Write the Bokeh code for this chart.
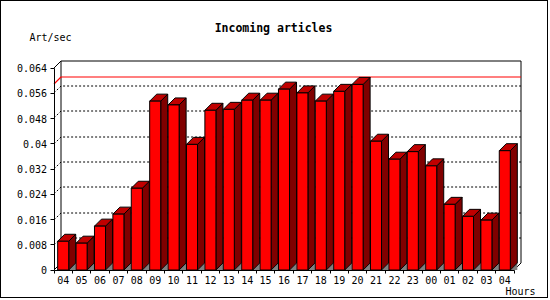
from bokeh.plotting import figure
from bokeh.models import Range1d, FixedTicker, Label
from bokeh.embed import file_html
from bokeh.resources import INLINE

# ---- data ----
hours = ["04", "05", "06", "07", "08", "09", "10", "11", "12", "13", "14", "15", "16",
         "17", "18", "19", "20", "21", "22", "23", "00", "01", "02", "03", "04"]
art_per_sec = [0.0091, 0.0085, 0.0139, 0.0177, 0.0259, 0.0535, 0.0523, 0.0398, 0.0506,
               0.0509, 0.0538, 0.0538, 0.0573, 0.0561, 0.0535, 0.0566, 0.0588, 0.0408,
               0.0351, 0.0375, 0.0330, 0.0208, 0.0170, 0.0158, 0.0378]
y_ticks = [0, 0.008, 0.016, 0.024, 0.032, 0.04, 0.048, 0.056, 0.064]
y_tick_labels = ["0", "0.008", "0.016", "0.024", "0.032", "0.04", "0.048", "0.056", "0.064"]
title_text = "Incoming articles"
y_title = "Art/sec"
x_title = "Hours"

# ---- geometry (pixels) ----
W, H = 548, 298            # canvas inside a 1px page border
OX, OY = 52.5, 268.5       # canvas position of data origin (front-bottom-left corner)
N = len(hours)
PX_CAT = 460.0 / N         # pixels per category
YMAX = y_ticks[-1]
PX_UNIT = 202.0 / YMAX     # pixels per unit
DX = 7.0 / PX_CAT          # 3D depth offset in data units
DY = 7.0 / PX_UNIT

def X(px):  # page px -> data x
    return (px - 1 - OX) / PX_CAT

def Y(py):  # page py -> data y
    return (OY - (py - 1)) / PX_UNIT

def snap(v):
    return round(v * PX_UNIT) / PX_UNIT

p = figure(width=W, height=H, output_backend="svg", toolbar_location=None,
           x_range=Range1d(-OX / PX_CAT, (W - OX) / PX_CAT),
           y_range=Range1d(-(H - OY) / PX_UNIT, OY / PX_UNIT),
           min_border_left=0, min_border_right=0, min_border_top=0, min_border_bottom=0)
p.styles = {"border": "1px solid black"}
p.outline_line_color = None
p.xgrid.visible = False
p.ygrid.visible = False
p.background_fill_color = "white"
p.border_fill_color = "white"

FONT = "DejaVu Sans Mono"

# back plane
p.quad(left=[DX], right=[N + DX], bottom=[DY], top=[YMAX + DY],
       fill_color="white", line_color=None)
p.multi_line(xs=[[DX, DX, N + DX, N + DX], [0, DX], [0, DX], [N, N + DX]],
             ys=[[DY, snap(YMAX) + DY, snap(YMAX) + DY, DY], [YMAX, YMAX + DY], [0, DY], [0, DY]],
             line_color="black", line_width=1)

# dotted grid lines on back plane and left wall
gx, gy = [], []
for v in y_ticks[1:-1]:
    gx.append([0, DX, N + DX])
    gy.append([snap(v), snap(v) + DY, snap(v) + DY])
p.multi_line(xs=gx, ys=gy, line_color="black", line_width=1, line_dash="2 2")

# max line
m = snap(max(art_per_sec))
p.line([0, DX, N + DX], [m, m + DY, m + DY], line_color="#FF0000", line_width=1.2)

# bars
centers = [i + 0.5 for i in range(N)]
bw = 0.6
lefts = [c - bw / 2 for c in centers]
rights = [c + bw / 2 for c in centers]
p.patches(xs=[[r, r + DX, r + DX] for r in rights],
          ys=[[0, DY, 0] for _ in rights], fill_color="#808080", line_color=None)
p.patches(xs=[[r, r + DX, r + DX, r] for r in rights],
          ys=[[0, DY, v + DY, v] for v in art_per_sec],
          fill_color="#800000", line_color="black", line_width=1)
p.patches(xs=[[l, l + DX, r + DX, r] for l, r in zip(lefts, rights)],
          ys=[[v, v + DY, v + DY, v] for v in art_per_sec],
          fill_color="#C00000", line_color="black", line_width=1)
p.vbar(x=centers, width=bw, top=art_per_sec, bottom=0,
       fill_color="#FF0000", line_color="black", line_width=1)

# axes (fixed at the data origin, inside the full-canvas frame)
yax = p.yaxis[0]
yax.fixed_location = 0
yax.ticker = FixedTicker(ticks=y_ticks)
yax.major_label_overrides = {t: s for t, s in zip(y_ticks, y_tick_labels)}
yax.bounds = (0, YMAX)
yax.major_tick_out = 4
yax.major_tick_in = 0
yax.minor_tick_line_color = None
yax.major_label_standoff = 3
yax.major_label_text_font = FONT
yax.major_label_text_font_size = "10px"
yax.major_label_text_color = "black"
yax.axis_line_color = "black"

xax = p.xaxis[0]
xax.fixed_location = 0
xax.ticker = FixedTicker(ticks=centers, minor_ticks=list(range(N + 1)))
xax.major_label_overrides = {c: h for c, h in zip(centers, hours)}
xax.bounds = (0, N)
xax.major_tick_line_color = None
xax.minor_tick_out = 3
xax.minor_tick_in = 0
xax.minor_tick_line_color = "black"
xax.major_label_standoff = 0
xax.major_label_text_font = FONT
xax.major_label_text_font_size = "10px"
xax.major_label_text_color = "black"
xax.axis_line_color = "black"

# texts
p.add_layout(Label(x=X(273), y=Y(27), text=title_text, text_align="center",
                   text_baseline="middle", text_font=FONT, text_font_style="bold",
                   text_font_size="11.5px", text_color="black"))
p.add_layout(Label(x=X(29), y=Y(37), text=y_title, text_align="left",
                   text_baseline="middle", text_font=FONT, text_font_size="10px",
                   text_color="black"))
p.add_layout(Label(x=X(505), y=Y(291), text=x_title, text_align="left",
                   text_baseline="middle", text_font=FONT, text_font_size="10px",
                   text_color="black"))

open("out.html", "w").write(file_html(p, INLINE))
